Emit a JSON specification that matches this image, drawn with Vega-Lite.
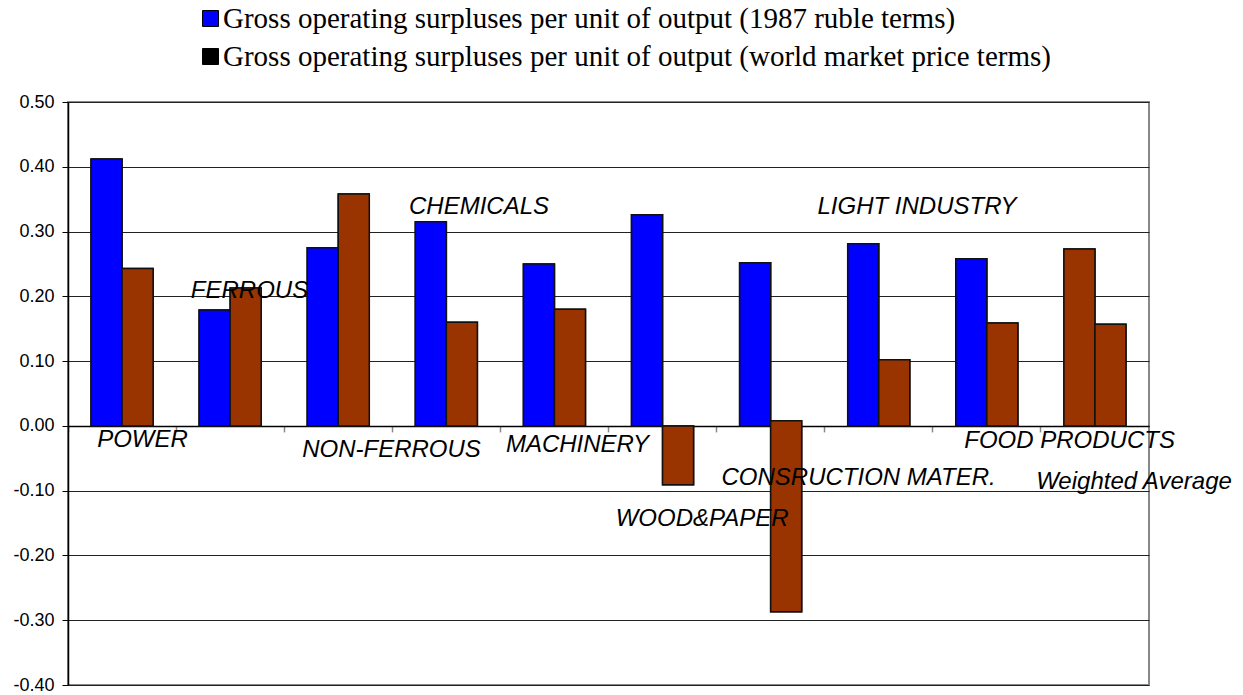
{
  "$schema": "https://vega.github.io/schema/vega-lite/v6.json",
  "width": 1081,
  "height": 583,
  "autosize": "none",
  "padding": {"left": 68, "top": 102, "right": 94, "bottom": 10},
  "background": "white",
  "config": {
    "view": {"stroke": "#888888", "strokeWidth": 2},
    "font": "Liberation Sans"
  },
  "datasets": {
    "bars": [
      {"category": "POWER", "series": "Gross operating surpluses per unit of output (1987 ruble terms)", "value": 0.412, "start": 0},
      {"category": "POWER", "series": "Gross operating surpluses per unit of output (world market price terms)", "value": 0.243, "start": 0},
      {"category": "FERROUS", "series": "Gross operating surpluses per unit of output (1987 ruble terms)", "value": 0.179, "start": 0},
      {"category": "FERROUS", "series": "Gross operating surpluses per unit of output (world market price terms)", "value": 0.213, "start": 0},
      {"category": "NON-FERROUS", "series": "Gross operating surpluses per unit of output (1987 ruble terms)", "value": 0.275, "start": 0},
      {"category": "NON-FERROUS", "series": "Gross operating surpluses per unit of output (world market price terms)", "value": 0.358, "start": 0},
      {"category": "CHEMICALS", "series": "Gross operating surpluses per unit of output (1987 ruble terms)", "value": 0.315, "start": 0},
      {"category": "CHEMICALS", "series": "Gross operating surpluses per unit of output (world market price terms)", "value": 0.16, "start": 0},
      {"category": "MACHINERY", "series": "Gross operating surpluses per unit of output (1987 ruble terms)", "value": 0.25, "start": 0},
      {"category": "MACHINERY", "series": "Gross operating surpluses per unit of output (world market price terms)", "value": 0.18, "start": 0},
      {"category": "WOOD&PAPER", "series": "Gross operating surpluses per unit of output (1987 ruble terms)", "value": 0.326, "start": 0},
      {"category": "WOOD&PAPER", "series": "Gross operating surpluses per unit of output (world market price terms)", "value": -0.091, "start": 0},
      {"category": "CONSRUCTION MATER.", "series": "Gross operating surpluses per unit of output (1987 ruble terms)", "value": 0.252, "start": 0},
      {"category": "CONSRUCTION MATER.", "series": "Gross operating surpluses per unit of output (world market price terms)", "value": -0.287, "start": 0.008},
      {"category": "LIGHT INDUSTRY", "series": "Gross operating surpluses per unit of output (1987 ruble terms)", "value": 0.281, "start": 0},
      {"category": "LIGHT INDUSTRY", "series": "Gross operating surpluses per unit of output (world market price terms)", "value": 0.102, "start": 0},
      {"category": "FOOD PRODUCTS", "series": "Gross operating surpluses per unit of output (1987 ruble terms)", "value": 0.258, "start": 0},
      {"category": "FOOD PRODUCTS", "series": "Gross operating surpluses per unit of output (world market price terms)", "value": 0.159, "start": 0},
      {"category": "Weighted Average", "series": "Gross operating surpluses per unit of output (1987 ruble terms)", "value": 0.273, "start": 0},
      {"category": "Weighted Average", "series": "Gross operating surpluses per unit of output (world market price terms)", "value": 0.157, "start": 0}
    ],
    "labels": [
      {"label": "POWER", "lx": 0.689, "ly": -0.022},
      {"label": "FERROUS", "lx": 1.679, "ly": 0.208},
      {"label": "NON-FERROUS", "lx": 2.993, "ly": -0.037},
      {"label": "CHEMICALS", "lx": 3.802, "ly": 0.338},
      {"label": "MACHINERY", "lx": 4.713, "ly": -0.030},
      {"label": "WOOD&PAPER", "lx": 5.866, "ly": -0.143},
      {"label": "CONSRUCTION MATER.", "lx": 7.314, "ly": -0.080},
      {"label": "LIGHT INDUSTRY", "lx": 7.854, "ly": 0.338},
      {"label": "FOOD PRODUCTS", "lx": 9.265, "ly": -0.024},
      {"label": "Weighted Average", "lx": 9.861, "ly": -0.087}
    ]
  },
  "layer": [
    {
      "data": {"name": "bars"},
      "encoding": {
        "x": {
          "field": "category", "type": "nominal", "sort": null,
          "scale": {"paddingInner": 0, "paddingOuter": 0},
          "axis": {
            "title": null, "labels": false, "grid": false,
            "bandPosition": 0, "offset": -259.1,
            "domainColor": "#000000", "domainWidth": 1.5,
            "tickColor": "#888888", "tickSize": 6, "tickWidth": 1.5
          }
        },
        "xOffset": {"field": "series", "type": "nominal", "sort": null, "scale": {"paddingInner": 0, "paddingOuter": 0.742}},
        "y": {
          "field": "value", "type": "quantitative",
          "scale": {"domain": [-0.4, 0.5], "nice": false, "zero": false},
          "axis": {
            "title": null,
            "values": [-0.4, -0.3, -0.2, -0.1, 0, 0.1, 0.2, 0.3, 0.4, 0.5],
            "format": ".2f",
            "labelExpr": "replace(datum.label, '\u2212', '-')",
            "labelFont": "Liberation Sans", "labelFontSize": 18, "labelColor": "#000000",
            "labelPadding": 8,
            "domainColor": "#000000", "domainWidth": 1.5,
            "tickColor": "#000000", "tickSize": 6,
            "grid": true, "gridColor": "#222222", "gridWidth": 1
          }
        },
        "y2": {"field": "start"}
      },
      "layer": [
        {
          "mark": {"type": "bar", "stroke": "#111111", "strokeWidth": 1.5},
          "encoding": {
            "color": {
              "field": "series", "type": "nominal", "sort": null,
              "scale": {
                "domain": [
                  "Gross operating surpluses per unit of output (1987 ruble terms)",
                  "Gross operating surpluses per unit of output (world market price terms)"
                ],
                "range": ["#0000FF", "#000000"]
              },
              "legend": {
                "title": null, "orient": "none", "legendX": 128, "legendY": -98,
                "direction": "vertical", "padding": 0,
                "symbolType": "square", "symbolSize": 256,
                "symbolStrokeColor": "#000000", "symbolStrokeWidth": 1,
                "labelFont": "Liberation Serif", "labelFontSize": 29, "labelColor": "#000000",
                "labelLimit": 2000, "labelOffset": -2, "rowPadding": 8
              }
            }
          }
        },
        {
          "mark": {"type": "bar", "stroke": "#111111", "strokeWidth": 1.5},
          "encoding": {
            "fill": {
              "condition": {"test": "datum.category === 'Weighted Average'", "value": "#993300"},
              "field": "series", "type": "nominal", "sort": null,
              "scale": {
                "domain": [
                  "Gross operating surpluses per unit of output (1987 ruble terms)",
                  "Gross operating surpluses per unit of output (world market price terms)"
                ],
                "range": ["#0000FF", "#993300"]
              },
              "legend": null
            }
          }
        }
      ]
    },
    {
      "data": {"name": "labels"},
      "mark": {
        "type": "text", "font": "Liberation Sans", "fontStyle": "italic",
        "fontSize": 24, "align": "center", "baseline": "middle", "color": "#000000"
      },
      "encoding": {
        "x": {"field": "lx", "type": "quantitative", "scale": {"domain": [0, 10], "nice": false, "zero": false}, "axis": null},
        "y": {"field": "ly", "type": "quantitative"},
        "text": {"field": "label", "type": "nominal"}
      }
    }
  ],
  "resolve": {"scale": {"x": "independent"}}
}
